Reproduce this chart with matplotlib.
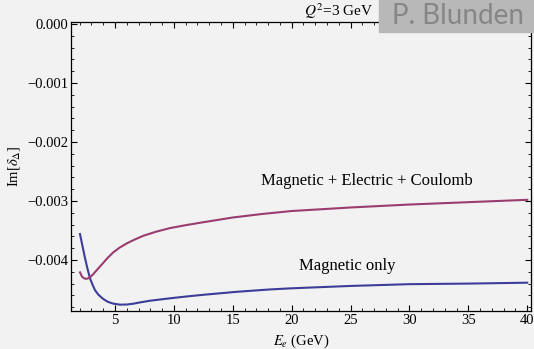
import matplotlib
matplotlib.use("Agg")
import matplotlib.pyplot as plt
from matplotlib.ticker import MultipleLocator, FormatStrFormatter

# beam energy (GeV) and Im[delta] for the two models
e_mag = [2.03, 2.25, 2.46, 2.67, 2.88, 3.1, 3.3, 3.6, 4.0, 4.4, 4.86, 5.42, 6.0,
         6.6, 7.1, 8.0, 9.66, 11, 12.5, 15.3, 18.1, 20, 25, 30, 35, 40]
im_mag = [-0.00356, -0.00377, -0.00397, -0.00415, -0.00431, -0.00442, -0.00451,
          -0.00459, -0.00466, -0.00471, -0.00474, -0.004757, -0.004755,
          -0.00474, -0.00472, -0.00469, -0.00465, -0.00462, -0.00459,
          -0.00454, -0.0045, -0.00448, -0.00444, -0.00441, -0.0044, -0.004385]

e_all = [2.03, 2.2, 2.37, 2.55, 2.73, 2.95, 3.16, 3.55, 4.0, 4.4, 4.86, 5.4,
         5.99, 6.6, 7.4, 8.5, 9.66, 11, 12.5, 15, 17.5, 20, 25, 30, 35, 40]
im_all = [-0.00421, -0.00428, -0.00431, -0.00432, -0.00431, -0.00428, -0.00424,
          -0.00415, -0.00405, -0.00396, -0.00387, -0.00379, -0.00372,
          -0.00366, -0.00359, -0.00352, -0.00346, -0.00341, -0.00336,
          -0.00328, -0.00322, -0.00317, -0.00311, -0.00306, -0.00302, -0.00298]

bg = "#f2f2f2"
plt.rcParams["font.family"] = ["Liberation Serif", "DejaVu Serif"]
plt.rcParams["mathtext.fontset"] = "stix"

fig = plt.figure(figsize=(5.34, 3.49), dpi=100, facecolor=bg)
ax = fig.add_axes([0.133, 0.109, 0.861, 0.828], facecolor=bg)

ax.plot(e_mag, im_mag, color="#3d3d99", lw=1.5)
ax.plot(e_all, im_all, color="#993d71", lw=1.5)

ax.set_xlim(1.27, 40.3)
ax.set_ylim(-0.004864, 0.000034)

ax.xaxis.set_major_locator(MultipleLocator(5))
ax.xaxis.set_minor_locator(MultipleLocator(1))
ax.yaxis.set_major_locator(MultipleLocator(0.001))
ax.yaxis.set_minor_locator(MultipleLocator(0.0002))
ax.yaxis.set_major_formatter(FormatStrFormatter("%.3f"))
ax.set_xticks([5, 10, 15, 20, 25, 30, 35, 40])

ax.tick_params(which="both", direction="in", top=True, right=True,
               labelsize=10.5, pad=2)
ax.tick_params(which="major", length=4, width=0.8)
ax.tick_params(which="minor", length=2, width=0.6)
ax.set_yticklabels([t.get_text().replace("-", "\u2212")
                    for t in ax.get_yticklabels()])
for sp in ax.spines.values():
    sp.set_linewidth(0.9)

ax.set_xlabel(r"$E_e$ (GeV)", fontsize=10.5, labelpad=4)
ax.set_ylabel(r"Im[$\delta_\Delta$]", fontsize=10.5, labelpad=4)

ax.text(0.582, 1.005, r"$Q^2$=3 GeV", transform=ax.transAxes,
        ha="center", va="bottom", fontsize=11)
ax.text(26.4, -0.00266, "Magnetic + Electric + Coulomb", ha="center",
        va="center", fontsize=12)
ax.text(24.7, -0.0041, "Magnetic only", ha="center", va="center", fontsize=12)

# author tag in the top-right corner
fig.patches.append(plt.Rectangle((379 / 534, 1 - 32 / 349), 155 / 534, 32 / 349,
                                 transform=fig.transFigure, color="#b8b8b8",
                                 zorder=5))
fig.text(458 / 534, 1 - 16 / 349, "P. Blunden", ha="center", va="center",
         fontsize=20, color="#868686", family="Lato", fontweight="normal",
         zorder=6)

fig.savefig("out.png", dpi=100, facecolor=bg)
